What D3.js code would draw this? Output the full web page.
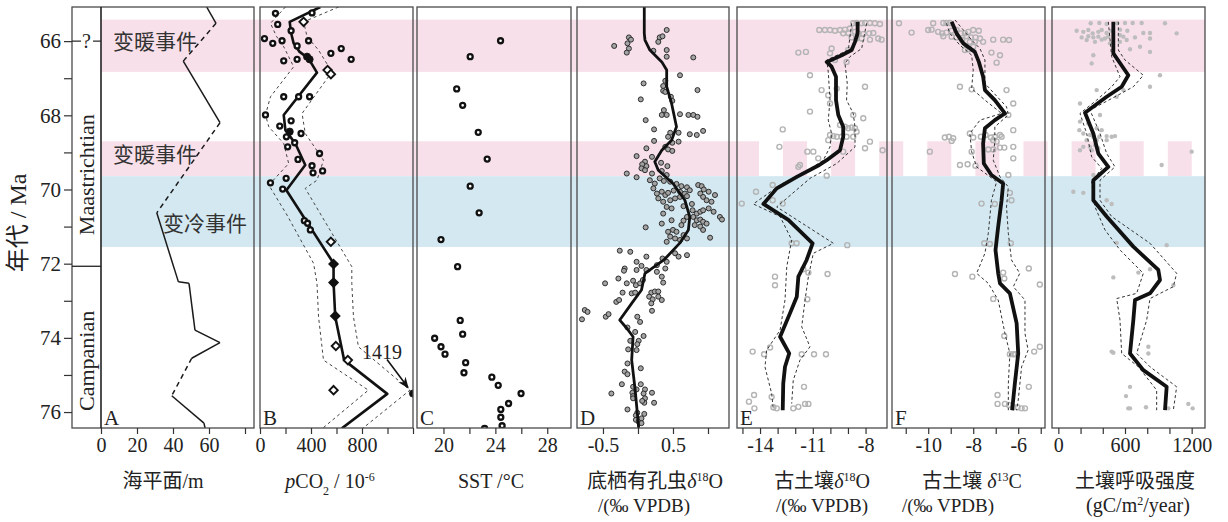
<!DOCTYPE html>
<html><head><meta charset="utf-8">
<script src="https://cdn.jsdelivr.net/npm/d3@7"></script>
<style>body{margin:0;background:#fff}svg{display:block}</style>
</head><body>
<svg id="c" width="1228" height="522"></svg>
<script>
// ---------------- DATA ----------------
const ageDomain = [65.08, 76.43];
const yTickAges = [66,67,68,69,70,71,72,73,74,75,76];
const yTickLabels = [66,68,70,72,74,76];
const warmBands = [[65.42,66.83],[68.7,69.64]];
const warmBandStriped = [false,true];
const coldBands = [[69.64,71.55]];
const bandLabels = [{t:"变暖事件",age:66.0},{t:"变暖事件",age:69.05},{t:"变冷事件",age:70.9}];
const stages = [{name:"Maastrichtian",mid:69.6},{name:"Campanian",mid:74.62}];
const stageBoundary = 72.07;
const stageTop = 66.0;

// A: sea level (m)
const seaAge   = [65.08,65.52,66.54,68.2,70.63,72.49,72.53,73.79,74.13,74.55,75.56,76.3,76.43];
const seaLevel = [58.7,63.9,45.7,66.1,31,43,48.9,52.2,66.1,50.4,39.3,57.2,57.8];
const seaUncertain = [false,true,false,true,false,false,false,false,false,true,false,false];

// B: pCO2 (ppm)
const co2Age = [65.25,65.24,65.55,65.48,65.72,65.93,66.06,65.99,66.13,65.99,66.33,66.20,66.49,66.53,66.49,66.42,66.49,66.78,66.89,67.5,67.5,67.5,67.99,68.15,68.29,68.49,68.58,68.44,68.85,68.74,69.03,69.19,69.36,69.55,69.50,69.70,69.82,69.99,70.84,70.91,71.09,71.41,72.01,72.51,73.41,74.22,74.60,75.41,75.50];
const co2Val = [121,408,139,342,244,35,100,173,291,381,556,637,715,186,291,369,389,530,556,186,303,389,43,244,155,322,207,233,217,272,467,298,408,416,491,205,82,178,348,373,395,556,577,577,590,595,689,577,1419];
const co2Type = ["c","c","c","d","c","c","c","c","c","c","c","c","c","c","c","f","f","d","d","c","c","c","c","c","c","c","c","f","c","c","c","c","c","c","c","c","c","c","c","c","c","d","D","D","D","d","d","d","f"];
const co2Fit = [[65.08,473],[65.48,233],[65.78,244],[66.06,264],[66.29,311],[66.47,381],[66.85,447],[67.99,186],[68.4,199],[68.76,277],[69.34,355],[70.02,207],[71.99,577],[72.51,577],[73.43,590],[74.6,660],[75.51,998],[76.44,642]];
const co2Lo = [[65.08,199],[65.52,82],[65.87,129],[66.15,186],[66.69,264],[67.5,82],[67.99,43],[68.31,69],[68.76,186],[69.3,225],[69.88,69],[70.69,212],[71.99,420],[72.53,447],[73.43,459],[74.6,498],[75.41,850],[76.44,490]];
const co2Hi = [[65.08,616],[65.48,342],[65.88,369],[66.24,459],[66.83,564],[67.95,330],[68.49,355],[69.21,498],[69.75,447],[69.97,355],[72.08,720],[72.53,720],[73.43,733],[74.24,772],[75.41,1176],[76.44,805]];
const co2Note = "1419";

// C: SST (°C)
const sstAge = [65.99,66.42,67.29,67.73,68.46,69.18,69.91,70.63,71.35,72.08,73.53,73.90,74.01,74.24,74.44,74.67,74.94,75.06,75.28,75.50,75.77,75.93,76.14,76.37,76.44];
const sstVal = [24.4,22.06,21.02,21.48,22.68,23.37,22.06,22.75,19.81,21.09,21.29,21.48,19.32,19.81,20.12,21.71,21.58,23.73,24.22,25.98,25.02,24.42,24.42,24.52,23.17];

// D: benthic foraminifera d18O [age, value]
const foram = [[66.13,-0.34],[65.90,-0.13],[65.96,-0.10],[66.06,-0.15],[66.20,-0.13],[66.31,-0.16],[65.70,0.41],[65.90,0.31],[65.87,0.35],[66.02,0.29],[66.26,0.22],[66.24,0.41],[66.42,0.41],[66.44,0.79],[66.92,0.60],[67.14,0.08],[67.07,0.39],[67.21,0.36],[67.34,0.36],[67.32,0.85],[67.57,0.04],[67.37,0.39],[67.50,0.47],[67.61,0.49],[67.86,0.37],[67.99,0.34],[67.99,0.41],[67.97,0.60],[67.99,0.72],[67.99,0.79],[68.04,0.85],[68.13,0.11],[68.38,0.23],[68.47,0.46],[68.47,0.58],[68.51,0.74],[68.53,0.84],[68.42,0.93],[68.69,0.23],[68.58,0.43],[68.74,0.49],[68.71,0.58],[68.89,0.12],[68.85,0.39],[68.92,0.43],[68.96,0.49],[69.12,0.20],[69.10,-0.02],[69.25,0.10],[69.37,0.12],[69.32,0.06],[69.28,0.33],[69.37,0.42],[69.57,-0.16],[69.67,-0.02],[69.43,0.05],[69.48,0.10],[69.57,0.20],[69.50,0.34],[69.61,0.41],
[69.75,0.17],[69.84,0.24],[69.70,0.31],[69.77,0.37],[69.79,0.46],[69.85,0.55],[69.91,0.62],[69.94,0.70],[70.02,0.74],[69.97,0.22],[70.11,0.27],[70.06,0.34],[70.15,0.39],[70.09,0.43],[70.03,0.51],[70.06,0.60],[70.11,0.67],[70.24,0.29],[70.33,0.36],[70.29,0.46],[70.24,0.53],[70.20,0.60],[70.18,0.70],[70.47,0.41],[70.51,0.48],[70.45,0.65],[70.39,0.77],[69.88,0.86],[69.91,0.91],[70.00,0.94],[70.06,1.01],[70.11,0.89],[70.20,0.93],[70.29,0.98],[70.33,1.05],[70.15,1.10],[70.56,0.78],[70.65,0.84],[70.60,0.89],[70.56,0.93],[70.51,1.01],[70.60,1.08],[70.74,1.17],[70.81,1.20],[70.74,0.79],[70.83,0.84],[70.81,0.89],[70.87,0.93],[70.92,0.98],[70.74,0.70],[70.84,0.65],[70.96,0.62],[70.96,0.81],[71.00,0.89],[71.09,0.93],[70.65,0.36],[70.92,0.34],[70.83,0.48],[71.02,0.11],[71.09,0.50],[71.14,0.43],[71.14,0.55],[71.27,0.46],[71.32,0.53],[71.36,0.60],[71.41,0.41],[71.32,0.70],[71.23,0.65],[71.30,1.03],
[71.68,-0.11],[71.65,-0.26],[71.81,0.12],[71.86,0.35],[71.72,0.53],[71.81,0.58],[71.77,0.70],[71.95,0.41],[72.04,0.27],[71.95,-0.02],[72.06,0.05],[72.13,-0.19],[72.19,-0.20],[72.17,-0.02],[72.17,0.12],[72.22,0.27],[72.13,0.39],[72.53,-0.47],[72.40,-0.28],[72.53,-0.16],[72.46,-0.07],[72.58,-0.03],[72.53,0.03],[72.44,0.07],[72.35,0.34],[72.51,0.36],[72.78,-0.22],[72.80,-0.09],[72.78,-0.04],[72.78,0.19],[72.75,0.24],[72.75,0.29],[72.89,0.16],[72.96,0.21],[72.89,0.29],[72.98,0.34],[73.03,-0.31],[72.98,-0.27],[73.07,0.19],[73.25,-0.76],[73.30,-0.72],[73.50,-0.80],[73.43,-0.46],[73.36,-0.42],[73.27,0.20],[73.43,-0.01],[73.57,0.03],[73.72,-0.15],[73.84,-0.04],[73.95,0.08],[74.08,-0.11],[74.08,0.01],[74.31,-0.14],[74.33,-0.02],[74.17,-0.01],[74.91,-0.19],[74.98,-0.15],[74.82,0.04],[74.69,-0.15],[75.25,-0.23],[75.50,-0.38],[75.32,-0.07],[75.39,-0.02],[75.25,0.04],[75.39,0.10],[75.50,0.08],[75.48,0.20],[75.48,-0.08],[75.57,-0.07],[75.63,-0.07],[75.63,0.10],[75.75,0.09],[75.75,0.23],[75.93,-0.15],[75.70,0.06],[76.02,-0.01],[76.09,-0.03],[76.05,0.09],[76.21,-0.03],[76.26,0.01],[76.17,0.05],[76.30,0.05]];
const foramFit = [[65.08,0.09],[65.79,0.09],[65.97,0.10],[66.24,0.17],[66.56,0.34],[66.78,0.41],[67.23,0.41],[67.68,0.48],[68.31,0.55],[68.67,0.48],[68.94,0.34],[69.25,0.24],[69.48,0.29],[69.84,0.50],[70.29,0.67],[70.74,0.74],[71.09,0.72],[71.44,0.60],[71.90,0.37],[72.17,0.17],[72.26,0.10],[72.71,0.05],[73.07,-0.09],[73.52,-0.26],[73.74,-0.16],[73.97,-0.07],[74.60,-0.09],[75.41,-0.04],[76.43,0.01]];

// E: paleosol d18O
const soilO = [[65.70,-10.63],[65.70,-10.31],[65.70,-10.02],[65.72,-9.74],[65.70,-9.45],[65.69,-9.17],[65.66,-8.89],[65.52,-8.70],[65.51,-8.51],[65.52,-8.22],[65.51,-8.03],[65.51,-7.75],[65.52,-7.47],[65.54,-7.18],[65.79,-9.27],[65.78,-8.98],[65.75,-8.60],[65.79,-8.41],[65.81,-8.13],[65.79,-7.79],[65.78,-7.56],[65.93,-7.28],[65.96,-7.09],[65.93,-8.22],[65.96,-7.75],[65.90,-8.79],[65.93,-8.51],[66.20,-9.93],[66.33,-10.02],[66.24,-8.98],[66.31,-11.82],[66.29,-11.39],[66.51,-9.74],[66.56,-9.08],[66.92,-11.16],[67.23,-8.03],[67.32,-10.50],[67.28,-9.64],[67.46,-10.12],[67.68,-10.02],[67.90,-11.16],[67.99,-8.70],[68.08,-8.13],[68.26,-9.45],[68.31,-9.17],[68.35,-8.98],[68.33,-8.79],[68.35,-8.60],[68.44,-8.51],[68.58,-8.70],[68.53,-10.02],[68.56,-9.83],[68.58,-9.64],[68.58,-9.36],[68.58,-9.08],[68.67,-10.12],[68.38,-12.71],[68.71,-7.75],[68.85,-12.90],[68.98,-11.31],[68.98,-10.97],[68.98,-9.27],[68.89,-8.03],[68.94,-7.03],[69.16,-10.69],[69.34,-11.73],[69.39,-11.82],[69.63,-10.21],[69.88,-13.28],[70.06,-14.23],[70.38,-15.04],[70.29,-13.28],[70.38,-12.71],[71.45,-12.20],[71.45,-11.92],[71.50,-9.04],[72.35,-13.15],[72.58,-13.15],[72.24,-11.25],[72.28,-10.16],[72.15,-11.54],[72.96,-11.31],[74.37,-14.42],[74.26,-13.43],[74.44,-13.77],[74.44,-11.63],[74.44,-10.93],[74.44,-10.25],[75.32,-11.50],[75.54,-14.34],[75.59,-13.34],[75.72,-14.63],[75.90,-14.32],[75.87,-13.24],[75.90,-13.05],[75.90,-12.11],[75.86,-11.82],[75.78,-11.44],[75.78,-11.25]];
const soilOFit = [[65.48,-8.45],[65.79,-8.45],[66.02,-8.6],[66.24,-8.79],[66.38,-9.35],[66.56,-10.21],[66.69,-9.93],[66.96,-9.68],[67.59,-9.68],[67.99,-9.55],[68.31,-9.27],[68.58,-9.27],[68.94,-9.45],[69.21,-10.21],[69.34,-10.63],[69.66,-11.91],[69.97,-13.05],[70.39,-13.81],[70.82,-12.39],[71.45,-11.01],[71.9,-11.35],[72.35,-11.82],[72.89,-11.91],[73.34,-12.3],[73.97,-12.86],[74.42,-12.34],[74.78,-12.58],[75.23,-12.68],[75.95,-12.71]];
const soilOLo = [[65.52,-8.79],[66.24,-8.98],[66.51,-10.21],[66.83,-10.12],[67.59,-10.02],[68.13,-10.12],[68.49,-9.93],[68.85,-10.02],[69.21,-10.40],[69.39,-10.97],[69.88,-12.86],[70.39,-14.38],[70.73,-12.86],[71.36,-12.20],[72.08,-12.48],[72.98,-12.58],[73.79,-12.86],[74.33,-13.62],[74.78,-13.72],[75.50,-13.34],[75.95,-13.24]];
const soilOHi = [[65.52,-7.94],[66.20,-8.22],[66.42,-8.89],[66.60,-9.17],[67.14,-9.04],[67.59,-9.08],[67.95,-8.70],[68.31,-8.60],[68.85,-8.60],[69.30,-9.64],[69.70,-11.16],[70.47,-13.05],[71.45,-9.83],[71.72,-10.97],[72.35,-11.25],[72.98,-11.44],[73.70,-11.63],[74.24,-11.16],[74.60,-11.73],[75.14,-12.11],[75.77,-12.20]];

// F: paleosol d13C
const soilC = [[65.52,-11.30],[65.52,-9.78],[65.51,-9.33],[65.51,-9.19],[65.51,-9.04],[65.77,-10.74],[65.70,-10.0],[65.69,-9.85],[65.75,-9.56],[65.79,-9.38],[65.77,-9.19],[65.72,-8.96],[65.70,-8.74],[65.79,-8.55],[65.79,-8.37],[65.75,-8.22],[65.70,-8.0],[65.72,-7.75],[65.87,-8.30],[65.90,-8.10],[65.90,-7.90],[65.93,-7.70],[66.02,-7.56],[65.87,-9.33],[65.88,-8.96],[65.90,-8.74],[65.97,-8.49],[66.02,-8.15],[66.02,-7.93],[65.96,-7.11],[65.96,-6.67],[65.97,-6.41],[66.24,-8.37],[66.22,-8.19],[66.15,-8.0],[66.31,-7.19],[66.38,-6.81],[66.58,-6.96],[67.23,-8.59],[67.30,-8.07],[67.32,-6.52],[67.68,-6.22],[67.99,-6.44],[68.60,-9.26],[68.58,-9.08],[68.62,-8.89],[68.69,-8.96],[68.49,-8.15],[68.60,-8.0],[68.58,-7.66],[68.53,-7.45],[68.60,-7.21],[68.58,-7.04],[68.53,-6.81],[68.67,-7.11],[68.71,-6.96],[68.58,-6.74],[68.40,-6.22],[68.98,-9.93],[68.98,-8.07],[68.92,-7.33],[68.92,-7.11],[68.87,-6.81],[68.87,-6.62],[68.85,-6.22],[69.16,-6.22],[69.34,-8.59],[69.32,-8.25],[69.36,-7.90],[69.61,-6.44],[70.09,-6.37],[70.29,-6.30],[70.38,-7.63],[70.39,-7.04],[71.45,-7.51],[71.47,-7.26],[71.45,-6.33],[72.28,-8.81],[72.35,-8.04],[72.24,-6.67],[72.40,-6.62],[72.13,-5.53],[72.56,-5.04],[72.95,-7.11],[73.95,-6.62],[74.44,-6.37],[74.44,-6.22],[74.44,-6.12],[74.37,-5.29],[74.24,-5.04],[75.32,-5.53],[75.54,-6.92],[75.78,-6.92],[75.78,-6.59],[75.81,-6.41],[75.87,-6.22],[75.87,-6.03],[75.90,-5.85],[75.90,-5.70]];
const soilCFit = [[65.48,-8.96],[65.79,-8.74],[66.06,-8.44],[66.29,-7.93],[66.56,-7.75],[66.96,-7.56],[67.32,-7.48],[67.59,-7.04],[67.95,-6.59],[68.13,-7.04],[68.35,-7.48],[68.76,-7.56],[69.30,-7.53],[69.61,-7.19],[69.84,-6.67],[70.29,-6.74],[71.00,-6.89],[71.63,-7.01],[72.26,-6.89],[72.53,-6.81],[72.80,-6.37],[73.61,-6.07],[74.42,-6.00],[75.23,-6.15],[75.95,-6.27]];
const soilCLo = [[65.52,-9.19],[65.79,-9.04],[66.11,-8.59],[66.38,-8.07],[66.78,-8.0],[67.28,-8.07],[67.59,-7.48],[67.95,-6.74],[68.13,-7.70],[68.49,-8.15],[68.98,-8.07],[69.39,-7.85],[69.79,-6.96],[70.29,-7.19],[71.18,-7.33],[71.72,-7.48],[72.26,-7.85],[72.53,-7.33],[72.98,-6.89],[73.88,-6.59],[74.42,-6.37],[75.23,-6.44],[75.95,-6.44]];
const soilCHi = [[65.43,-8.81],[65.70,-8.44],[65.97,-8.07],[66.20,-7.70],[66.51,-7.48],[67.14,-7.48],[67.77,-6.52],[67.99,-6.44],[68.31,-7.04],[68.67,-7.04],[69.21,-7.11],[69.66,-6.81],[69.93,-6.44],[70.47,-6.52],[71.18,-6.44],[71.90,-6.30],[72.26,-5.93],[72.62,-6.22],[72.98,-5.70],[73.88,-5.70],[74.33,-5.56],[74.78,-5.85],[75.68,-6.0],[75.95,-6.07]];

// G: soil respiration (gC/m2/year)
const resp = [[65.52,291],[65.51,369],[65.54,435],[65.52,531],[65.51,600],[65.51,669],[65.51,750],[65.52,960],[65.72,165],[65.75,225],[65.70,270],[65.79,309],[65.75,360],[65.70,390],[65.78,435],[65.72,480],[65.69,555],[65.72,621],[65.90,210],[65.87,270],[65.90,315],[65.88,360],[65.93,420],[65.88,450],[65.84,555],[65.88,585],[65.78,765],[65.78,825],[65.79,1065],[65.97,255],[66.02,330],[65.96,390],[66.06,465],[66.02,555],[65.97,615],[65.90,690],[65.93,825],[66.22,645],[66.15,735],[66.29,825],[66.38,315],[66.60,300],[66.92,915],[67.32,585],[67.32,345],[67.23,825],[67.50,525],[67.68,195],[67.99,375],[68.17,195],[68.22,270],[68.35,345],[68.40,390],[68.40,189],[68.49,225],[68.53,285],[68.58,315],[68.58,369],[68.56,435],[68.58,480],[68.56,510],[68.67,255],[68.67,345],[68.67,435],[68.85,225],[68.85,285],[68.80,330],[68.94,195],[68.94,300],[68.89,360],[68.98,1200],[69.34,930],[69.61,315],[70.06,135],[70.09,225],[70.29,435],[70.39,480],[71.44,525],[71.50,975],[72.37,495],[72.24,720],[72.15,825],[72.58,1035],[74.37,480],[74.40,495],[74.24,810],[74.42,810],[75.32,645],[75.57,609],[75.90,630],[75.90,645],[75.87,789],[75.78,1170],[75.90,1209],[75.90,990]];
const respFit = [[65.48,495],[66.33,495],[66.92,630],[67.23,570],[67.50,435],[67.93,240],[68.49,315],[69.03,360],[69.39,450],[69.75,315],[70.29,315],[70.73,435],[71.54,675],[72.17,900],[72.44,915],[72.80,825],[72.98,690],[73.52,675],[74.42,645],[74.87,765],[75.32,975],[75.95,960]];
const respLo = [[65.48,450],[66.42,480],[66.96,555],[67.23,480],[67.59,345],[67.95,195],[68.49,255],[69.12,300],[69.43,390],[69.79,300],[70.47,330],[71.09,420],[71.63,555],[72.26,765],[72.80,705],[72.94,525],[73.52,555],[74.42,570],[74.78,720],[75.41,885],[75.95,885]];
const respHi = [[65.48,540],[66.24,540],[66.51,600],[66.92,765],[67.23,675],[67.50,510],[67.86,285],[68.49,375],[69.03,435],[69.39,510],[69.75,375],[70.29,375],[70.73,480],[71.45,825],[72.26,1065],[72.62,1035],[72.94,825],[73.52,795],[74.42,705],[74.78,825],[75.32,1065],[75.95,1035]];

// ---------------- LAYOUT ----------------
const svg = d3.select('#c');
const SERIF = "'Liberation Serif','Noto Sans CJK SC',serif";
const CJK = "'Noto Sans CJK SC','Liberation Serif',sans-serif";
const TOP = 7, BOT = 428;
const y = d3.scaleLinear().domain(ageDomain).range([TOP, BOT]);
const FRAME = '#4a4a4a';
const PINK = '#f8e0ea', BLUE = '#d3e8f1';

const P = {
  A:{x0:101,x1:254,dom:[0,85],ticks:[0,20,40,60,80],labels:[0,20,40,60]},
  B:{x0:260,x1:413,dom:[0,1200],ticks:[0,200,400,600,800,1000,1200],labels:[0,400,800]},
  C:{x0:417,x1:571,dom:[17.96,29.83],ticks:[20,22,24,26,28],labels:[20,24,28]},
  D:{x0:577,x1:729,dom:[-0.871,1.3],ticks:[-0.5,0,0.5,1],labels:[-0.5,0.5]},
  E:{x0:737,x1:887,dom:[-15.31,-6.78],ticks:[-15,-14,-13,-12,-11,-10,-9,-8],labels:[-14,-11,-8]},
  F:{x0:892,x1:1045,dom:[-11.61,-4.81],ticks:[-11,-10,-9,-8,-7,-6,-5],labels:[-10,-8,-6]},
  G:{x0:1052,x1:1205,dom:[-57,1320],ticks:[0,200,400,600,800,1000,1200],labels:[0,600,1200]}
};
Object.entries(P).forEach(([k,p])=>{ p.x = d3.scaleLinear().domain(p.dom).range([p.x0,p.x1]); });

const defs = svg.append('defs');
Object.entries(P).forEach(([k,p])=>{
  defs.append('clipPath').attr('id','clip'+k).append('rect')
    .attr('x',p.x0).attr('y',TOP).attr('width',p.x1-p.x0).attr('height',BOT-TOP);
});
defs.append('marker').attr('id','arr').attr('viewBox','0 0 10 10').attr('refX',9).attr('refY',5)
  .attr('markerWidth',7).attr('markerHeight',7).attr('orient','auto')
  .append('path').attr('d','M0,1 L10,5 L0,9 L3,5 Z').attr('fill','#111');

// ---------------- BANDS ----------------
const bands = svg.append('g');
const bx0 = P.A.x0, bx1 = P.G.x1;
warmBands.forEach((b,i)=>{
  const yy = y(b[0]), hh = y(b[1])-y(b[0]);
  if(!warmBandStriped[i]){
    bands.append('rect').attr('x',bx0).attr('y',yy).attr('width',bx1-bx0).attr('height',hh).attr('fill',PINK);
  } else {
    bands.append('rect').attr('x',bx0).attr('y',yy).attr('width',759-bx0).attr('height',hh).attr('fill',PINK);
    for(let sx=783; sx<1192; sx+=48.1){
      bands.append('rect').attr('x',sx).attr('y',yy).attr('width',Math.min(24,1192-sx)).attr('height',hh).attr('fill',PINK);
    }
  }
});
coldBands.forEach(b=>{
  bands.append('rect').attr('x',bx0).attr('y',y(b[0])).attr('width',bx1-bx0).attr('height',y(b[1])-y(b[0])).attr('fill',BLUE);
});

// ---------------- HELPERS ----------------
function plotLine(k, data, opts){
  const p = P[k];
  const ln = d3.line().x(d=>p.x(d[1])).y(d=>y(d[0]));
  svg.append('path').attr('clip-path',`url(#clip${k})`).attr('d',ln(data))
    .attr('fill','none').attr('stroke',opts.stroke||'#111').attr('stroke-width',opts.w||1)
    .attr('stroke-dasharray',opts.dash||null).attr('stroke-linejoin','round');
}
const DIAMOND = 'M0,-4.2L4.2,0L0,4.2L-4.2,0Z';

// ---------------- PANEL A ----------------
for(let i=0;i<seaAge.length-1;i++){
  plotLine('A',[[seaAge[i],seaLevel[i]],[seaAge[i+1],seaLevel[i+1]]],
    {w:1.5, stroke:'#1a1a1a', dash: seaUncertain[i] ? '5,4' : null});
}

// ---------------- PANEL B ----------------
plotLine('B',co2Lo,{w:1,stroke:'#444',dash:'3,3'});
plotLine('B',co2Hi,{w:1,stroke:'#444',dash:'3,3'});
plotLine('B',co2Fit,{w:2.6,stroke:'#111'});
const xBc = P.B.x.copy().clamp(true);
const gB = svg.append('g').attr('clip-path','url(#clipB)');
co2Age.forEach((a,i)=>{
  const t = co2Type[i], cx = xBc(co2Val[i]), cy = y(a);
  if(t==='c' || t==='f'){
    gB.append('circle').attr('cx',cx).attr('cy',cy).attr('r',t==='f'?3.6:2.5)
      .attr('fill',t==='f'?'#111':'#fff').attr('stroke','#111').attr('stroke-width',t==='f'?0.8:2.3);
  } else {
    gB.append('path').attr('d',DIAMOND).attr('transform',`translate(${cx},${cy})`)
      .attr('fill',t==='D'?'#111':'#fff').attr('stroke','#111').attr('stroke-width',1.9);
  }
});
// annotation for off-scale value
{
  const iMax = co2Val.indexOf(d3.max(co2Val));
  const px = xBc(co2Val[iMax]), py = y(co2Age[iMax]);
  svg.append('text').attr('x',px-31).attr('y',py-35).attr('text-anchor','middle')
    .attr('font-family',SERIF).attr('font-size',20).attr('fill','#222').text(co2Note);
  svg.append('line').attr('x1',px-26).attr('y1',py-34).attr('x2',px-5).attr('y2',py-6)
    .attr('stroke','#111').attr('stroke-width',1.6).attr('marker-end','url(#arr)');
}

// ---------------- PANEL C ----------------
const gC = svg.append('g').attr('clip-path','url(#clipC)');
sstAge.forEach((a,i)=>{
  gC.append('circle').attr('cx',P.C.x(sstVal[i])).attr('cy',y(a)).attr('r',2.5)
    .attr('fill','#fff').attr('stroke','#111').attr('stroke-width',2.3);
});

// ---------------- PANEL D ----------------
const gD = svg.append('g').attr('clip-path','url(#clipD)');
foram.forEach(d=>{
  gD.append('circle').attr('cx',P.D.x(d[1])).attr('cy',y(d[0])).attr('r',2.5)
    .attr('fill','#a3a3a3').attr('stroke','#2e2e2e').attr('stroke-width',1);
});
plotLine('D',foramFit,{w:2.8,stroke:'#111'});

// ---------------- PANEL E ----------------
const gE = svg.append('g').attr('clip-path','url(#clipE)');
soilO.forEach(d=>{
  gE.append('circle').attr('cx',P.E.x(d[1])).attr('cy',y(d[0])).attr('r',2.5)
    .attr('fill','none').attr('stroke','#b4b4b4').attr('stroke-width',1.4);
});
plotLine('E',soilOLo,{w:1,stroke:'#333',dash:'3,2.5'});
plotLine('E',soilOHi,{w:1,stroke:'#333',dash:'3,2.5'});
plotLine('E',soilOFit,{w:3.8,stroke:'#111'});

// ---------------- PANEL F ----------------
const gF = svg.append('g').attr('clip-path','url(#clipF)');
soilC.forEach(d=>{
  gF.append('circle').attr('cx',P.F.x(d[1])).attr('cy',y(d[0])).attr('r',2.5)
    .attr('fill','none').attr('stroke','#b4b4b4').attr('stroke-width',1.4);
});
plotLine('F',soilCLo,{w:1,stroke:'#333',dash:'3,2.5'});
plotLine('F',soilCHi,{w:1,stroke:'#333',dash:'3,2.5'});
plotLine('F',soilCFit,{w:3.8,stroke:'#111'});

// ---------------- PANEL G ----------------
const gG = svg.append('g').attr('clip-path','url(#clipG)');
resp.forEach(d=>{
  gG.append('circle').attr('cx',P.G.x(d[1])).attr('cy',y(d[0])).attr('r',2.2).attr('fill','#bdbdbd');
});
plotLine('G',respLo,{w:1,stroke:'#333',dash:'3,2.5'});
plotLine('G',respHi,{w:1,stroke:'#333',dash:'3,2.5'});
plotLine('G',respFit,{w:3.8,stroke:'#111'});

// ---------------- FRAMES & AXES ----------------
const STAGE_X0 = 72;
svg.append('rect').attr('x',STAGE_X0).attr('y',TOP).attr('width',P.A.x1-STAGE_X0).attr('height',BOT-TOP)
  .attr('fill','none').attr('stroke',FRAME).attr('stroke-width',1.3);
Object.entries(P).forEach(([k,p])=>{
  if(k==='A') return;
  svg.append('rect').attr('x',p.x0).attr('y',TOP).attr('width',p.x1-p.x0).attr('height',BOT-TOP)
    .attr('fill','none').attr('stroke',FRAME).attr('stroke-width',1.3);
});
svg.append('line').attr('x1',P.A.x0).attr('x2',P.A.x0).attr('y1',TOP).attr('y2',BOT).attr('stroke','#222').attr('stroke-width',1.6);

// stage column
svg.append('line').attr('x1',STAGE_X0).attr('x2',P.A.x0).attr('y1',y(stageBoundary)).attr('y2',y(stageBoundary))
  .attr('stroke','#222').attr('stroke-width',1.3);
svg.append('line').attr('x1',STAGE_X0).attr('x2',STAGE_X0+9).attr('y1',y(stageTop)).attr('y2',y(stageTop)).attr('stroke','#222').attr('stroke-width',1.2);
svg.append('line').attr('x1',P.A.x0-8).attr('x2',P.A.x0).attr('y1',y(stageTop)).attr('y2',y(stageTop)).attr('stroke','#222').attr('stroke-width',1.2);
svg.append('text').attr('x',(STAGE_X0+P.A.x0)/2).attr('y',y(stageTop)+7).attr('text-anchor','middle')
  .attr('font-family',SERIF).attr('font-size',20).attr('fill','#222').text('?');
stages.forEach(s=>{
  svg.append('text').attr('transform',`translate(${(STAGE_X0+P.A.x0)/2+7},${y(s.mid)}) rotate(-90)`)
    .attr('text-anchor','middle').attr('font-family',SERIF).attr('font-size',22).attr('fill','#222').text(s.name);
});

// y axis
const yAx = svg.append('g').attr('transform',`translate(${STAGE_X0},0)`)
  .call(d3.axisLeft(y).tickValues(yTickAges).tickSize(8).tickPadding(3)
    .tickFormat(d=> yTickLabels.includes(d) ? String(d) : ''));
yAx.select('.domain').remove();
yAx.selectAll('line').attr('stroke','#333').attr('stroke-width',1.2);
yAx.selectAll('text').attr('font-family',SERIF).attr('font-size',21).attr('fill','#222');
svg.append('text').attr('transform',`translate(26,${y(70.9)}) rotate(-90)`)
  .attr('text-anchor','middle').attr('font-family',SERIF).attr('font-size',24).attr('fill','#222')
  .text('年代 / Ma');

// x axes
Object.entries(P).forEach(([k,p])=>{
  const ax = svg.append('g').attr('transform',`translate(0,${BOT})`)
    .call(d3.axisBottom(p.x).tickValues(p.ticks).tickSize(6).tickPadding(4)
      .tickFormat(d=> p.labels.includes(d) ? String(d) : ''));
  ax.select('.domain').remove();
  ax.selectAll('line').attr('stroke','#333').attr('stroke-width',1.2);
  ax.selectAll('text').attr('font-family',SERIF).attr('font-size',20).attr('fill','#222');
  if(k!=='G'){
    svg.append('text').attr('x',p.x0+3).attr('y',BOT-3).attr('font-family',SERIF).attr('font-size',21)
      .attr('fill','#222').text(k);
  }
});

// band labels
bandLabels.forEach((b,i)=>{
  svg.append('text').attr('x', i===2 ? 163 : 113).attr('y',y(b.age)+8)
    .attr('font-family',CJK).attr('font-size',21).attr('fill','#333').text(b.t);
});

// axis titles
function title(cx, yb, parts, size){
  const t = svg.append('text').attr('x',cx).attr('y',yb).attr('text-anchor','middle')
    .attr('font-family',SERIF).attr('font-size',size||20).attr('fill','#222');
  parts.forEach(pt=>{
    const s = t.append('tspan').text(pt.t);
    if(pt.i) s.attr('font-style','italic');
    if(pt.sup) s.attr('baseline-shift','super').attr('font-size',(size||20)*0.6);
    if(pt.sub) s.attr('baseline-shift','sub').attr('font-size',(size||20)*0.6);
  });
}
const L1 = 488, L2 = 512;
title(163, L1, [{t:'海平面/m'}]);
title(330, L1, [{t:'p',i:true},{t:'CO'},{t:'2',sub:true},{t:' / 10'},{t:'-6',sup:true}]);
title(491, L1, [{t:'SST /°C'}]);
title(655, L1, [{t:'底栖有孔虫'},{t:'δ',i:true},{t:'18',sup:true},{t:'O'}]);
title(644, L2, [{t:'/(‰  VPDB)'}], 19);
title(822, L1, [{t:'古土壤'},{t:'δ',i:true},{t:'18',sup:true},{t:'O'}]);
title(822, L2, [{t:'/(‰  VPDB)'}], 19);
title(972, L1, [{t:'古土壤  '},{t:'δ',i:true},{t:'13',sup:true},{t:'C'}]);
title(948, L2, [{t:'/(‰  VPDB)'}], 19);
title(1135, L1, [{t:'土壤呼吸强度'}]);
title(1138, L2, [{t:'(gC/m'},{t:'2',sup:true},{t:'/year)'}]);
</script>
</body></html>
